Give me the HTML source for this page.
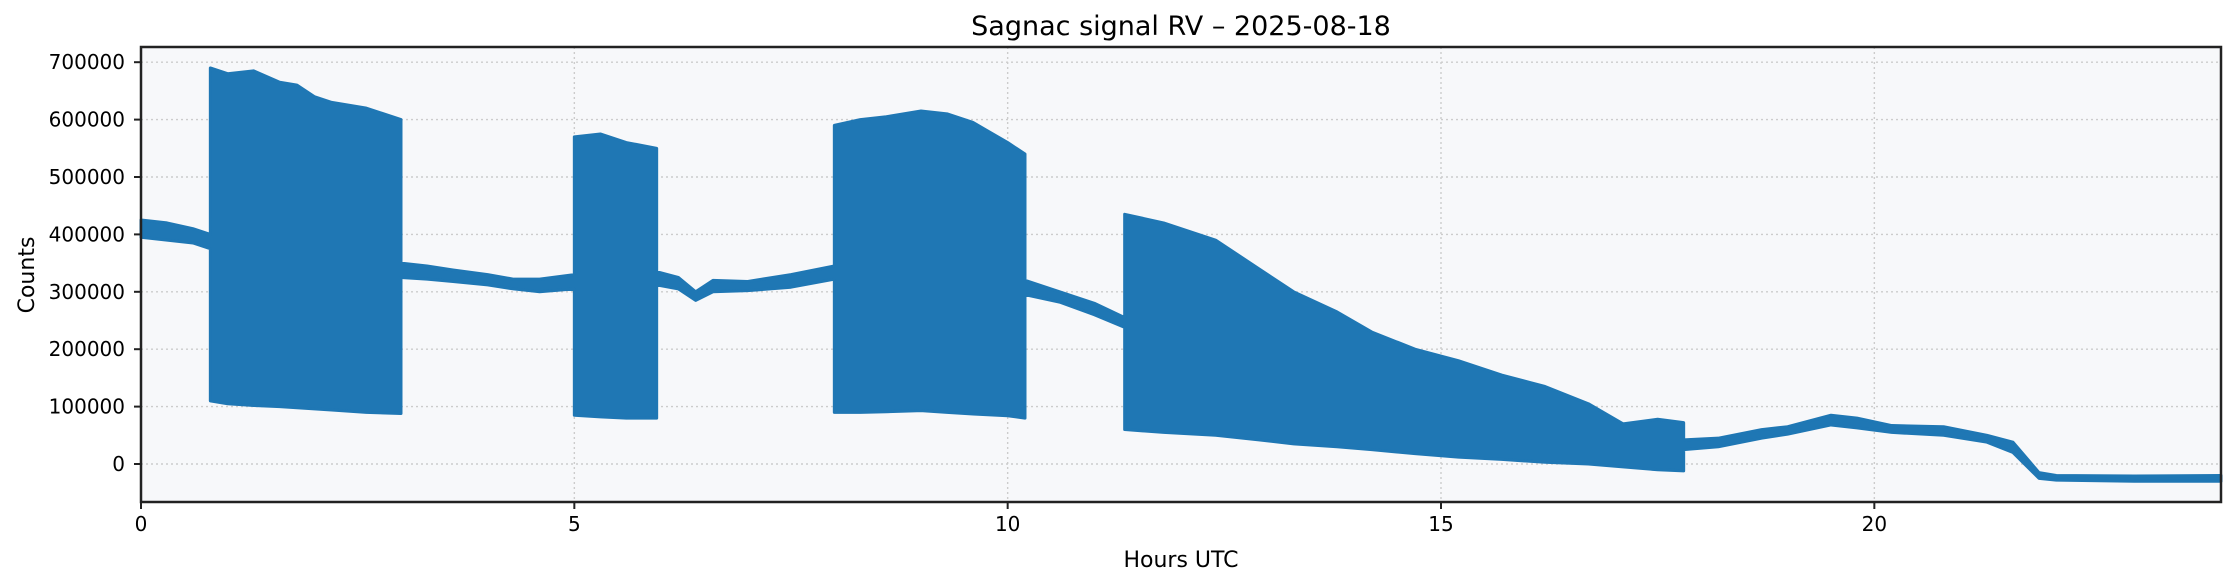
<!DOCTYPE html>
<html><head><meta charset="utf-8"><style>
body{margin:0;background:#fff;}
svg{display:block;font-family:"DejaVu Sans","Liberation Sans",sans-serif;}
</style></head><body>
<svg id="chart" width="2236" height="583">
<rect x="141" y="47" width="2080" height="455" fill="#f7f8fa"/>
<g id="grid"></g>
<g id="series"></g>
<g id="axes"></g>
<text x="1181" y="35" font-size="27" text-anchor="middle" fill="#000">Sagnac signal RV – 2025-08-18</text>
<text x="1181" y="567" font-size="22" text-anchor="middle">Hours UTC</text>
<text transform="translate(34,275) rotate(-90)" font-size="22" text-anchor="middle">Counts</text>
</svg>
<script>
const hours = [0,0.3,0.6,0.8,0.8,1.0,1.3,1.6,1.8,2.0,2.2,2.6,3.0,3.0,3.3,3.6,4.0,4.3,4.6,5.0,5.0,5.3,5.6,5.95,5.95,6.2,6.4,6.6,7.0,7.5,8.0,8.0,8.3,8.6,9.0,9.3,9.6,10.0,10.2,10.2,10.6,11.0,11.35,11.35,11.8,12.4,12.9,13.3,13.8,14.2,14.7,15.2,15.7,16.2,16.7,17.1,17.5,17.8,17.8,18.2,18.7,19.0,19.5,19.8,20.2,20.8,21.3,21.6,21.9,22.1,23.0,24.0];
const upper = [425,420,410,400,690,680,685,665,660,640,630,620,600,350,345,338,330,322,322,330,570,575,560,550,335,325,300,320,318,330,345,590,600,605,615,610,595,560,540,320,300,280,255,435,420,390,340,300,265,230,200,180,155,135,105,70,78,72,42,45,60,65,85,80,67,65,50,38,-15,-20,-21,-20];
const lower = [395,390,385,375,110,105,102,100,98,96,94,90,88,325,322,318,312,305,300,305,85,82,80,80,312,305,285,300,302,308,322,90,90,91,93,90,87,84,80,295,282,260,238,60,55,50,42,35,30,25,18,12,8,3,0,-5,-10,-12,25,30,45,52,68,63,55,50,38,20,-25,-28,-30,-30];
const xTicks = [0,5,10,15,20];
const yTicks = [0,100000,200000,300000,400000,500000,600000,700000];
const NS='http://www.w3.org/2000/svg';
function X(h){return 141+h*(2221-141)/24;}
function Y(v){return 464-v*57.4/100000;}
function mk(tag,attrs,parent){const e=document.createElementNS(NS,tag);for(const k in attrs)e.setAttribute(k,attrs[k]);parent.appendChild(e);return e;}
const grid=document.getElementById('grid'),axes=document.getElementById('axes'),series=document.getElementById('series');
xTicks.forEach(t=>{
  const l=mk('line',{x1:X(t),x2:X(t),y1:47,y2:502,stroke:'#cccccc','stroke-width':1.4,'stroke-dasharray':'2,3'},grid);
  
  
  const tk=mk('line',{x1:X(t),x2:X(t),y1:502,y2:509,stroke:'#222','stroke-width':2},axes);
  
  
  const tx=mk('text',{x:X(t),y:531,'font-size':20,'text-anchor':'middle'},axes);
  tx.textContent=t;
  
  
});
yTicks.forEach(t=>{
  const l=mk('line',{x1:141,x2:2221,y1:Y(t),y2:Y(t),stroke:'#cccccc','stroke-width':1.4,'stroke-dasharray':'2,3'},grid);
  
  
  const tk=mk('line',{x1:134,x2:141,y1:Y(t),y2:Y(t),stroke:'#222','stroke-width':2},axes);
  
  
  const tx=mk('text',{x:125,y:Y(t)+7,'font-size':20,'text-anchor':'end'},axes);
  tx.textContent=t;
  
  
});
let pts=[];
for(let i=0;i<hours.length;i++)pts.push(X(hours[i])+','+Y(upper[i]*1000));
for(let i=hours.length-1;i>=0;i--)pts.push(X(hours[i])+','+Y(lower[i]*1000));
const poly=mk('polygon',{points:pts.join(' '),fill:'#1f77b4',stroke:'#1f77b4','stroke-width':3,'stroke-linejoin':'round'},series);


const frame=mk('rect',{x:141,y:47,width:2080,height:455,fill:'none',stroke:'#222','stroke-width':2.5},axes);


</script>
</body></html>
